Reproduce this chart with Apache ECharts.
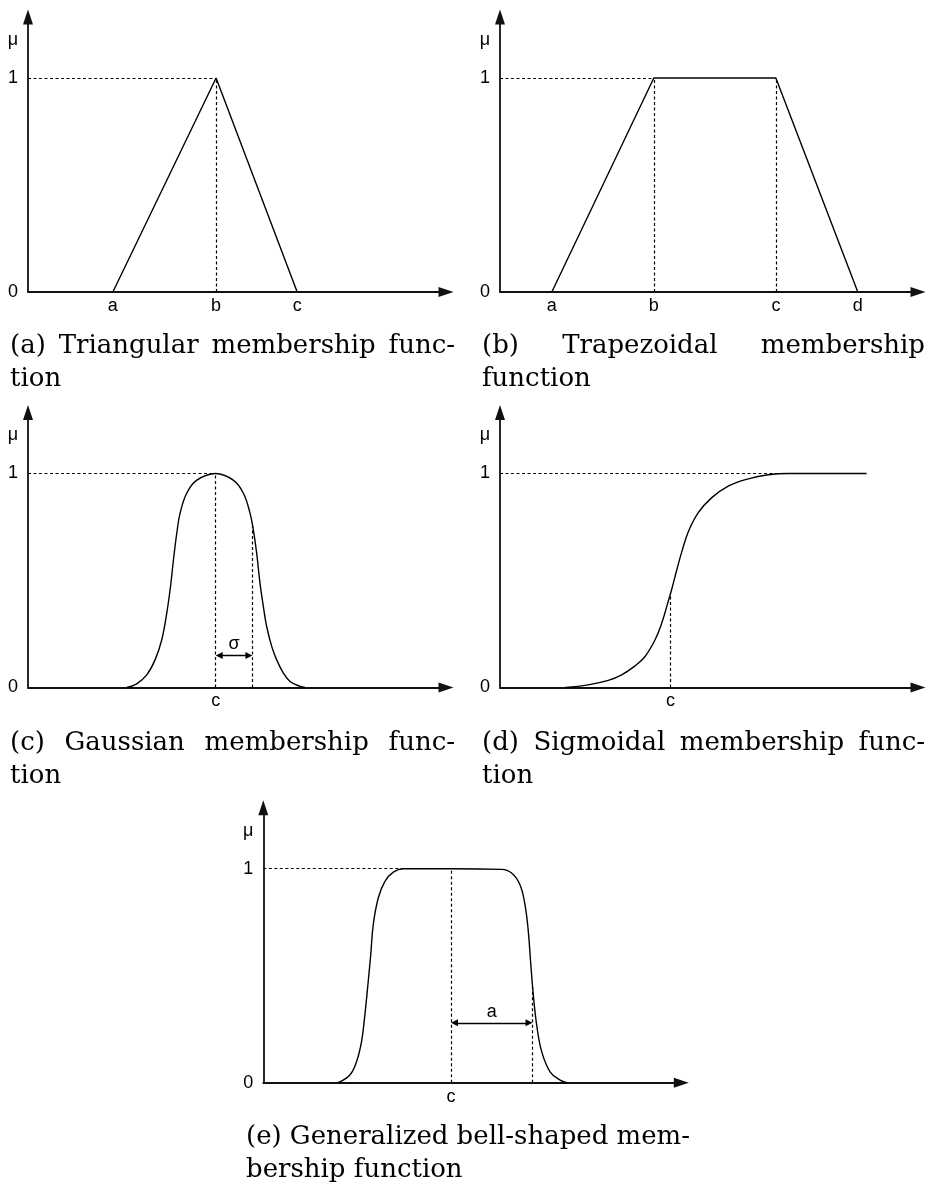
<!DOCTYPE html>
<html>
<head>
<meta charset="utf-8">
<title>Membership functions</title>
<script src="https://cdn.jsdelivr.net/npm/echarts@6.0.0/dist/echarts.min.js"></script>
<style>
  html, body { margin: 0; padding: 0; background: #fff; }
  #chart { width: 928px; height: 1186px; }
</style>
</head>
<body>
<div id="chart"></div>
<script>
// ---- values (x in axis units 0..10, y = membership degree) ----
const triX = [2.03, 4.50, 6.44];
const triY = [0, 1, 0];
const triTicks = ['a', 'b', 'c'];

const trapX = [1.24, 3.68, 6.60, 8.56];
const trapY = [0, 1, 1, 0];
const trapTicks = ['a', 'b', 'c', 'd'];

const gaussX = [2.36, 2.60, 2.84, 3.04, 3.20, 3.32, 3.41, 3.48, 3.56, 3.64, 3.80, 4.04, 4.49,
                4.91, 5.15, 5.31, 5.39, 5.47, 5.55, 5.63, 5.71, 5.83, 5.95, 6.11, 6.27, 6.51, 6.63];
const gaussY = [0, 0.017, 0.059, 0.129, 0.223, 0.348, 0.473, 0.597, 0.722, 0.816, 0.909, 0.969, 1,
                0.969, 0.909, 0.816, 0.738, 0.629, 0.488, 0.379, 0.285, 0.192, 0.129, 0.067, 0.028, 0.005, 0];
const gaussC = 4.49;
const gaussSigmaX = 5.37;

const sigX = [1.56, 2.11, 2.59, 2.91, 3.23, 3.47, 3.71, 3.87, 3.99, 4.11, 4.23, 4.35, 4.51,
              4.74, 5.06, 5.46, 5.94, 6.42, 6.90, 8.77];
const sigY = [0, 0.012, 0.033, 0.059, 0.101, 0.145, 0.223, 0.301, 0.379, 0.46, 0.55, 0.635, 0.730,
              0.816, 0.886, 0.941, 0.975, 0.994, 1, 1];
const sigC = 4.08;

const bellX = [1.79, 2.07, 2.23, 2.35, 2.43, 2.51, 2.57, 2.63, 2.75, 2.91, 3.11, 3.35, 4.49,
               5.70, 5.94, 6.14, 6.26, 6.34, 6.40, 6.46, 6.54, 6.66, 6.86, 7.10, 7.26];
const bellY = [0, 0.036, 0.098, 0.192, 0.317, 0.473, 0.598, 0.738, 0.863, 0.941, 0.984, 1, 1,
               0.997, 0.98, 0.925, 0.832, 0.707, 0.551, 0.41, 0.27, 0.145, 0.051, 0.012, 0];
const bellC = 4.49;
const bellAX = 6.44;

const centerTicks = ['c'];
const yTickValues = [0, 1, 1.178];
const yTickLabels = ['0', '1', 'μ'];

const sigmaArrowY = 0.15;
const bellArrowY = 0.28;

const captions = [
  ['(a) Triangular membership func-', 'tion'],
  ['(b) Trapezoidal membership', 'function'],
  ['(c) Gaussian membership func-', 'tion'],
  ['(d) Sigmoidal membership func-', 'tion'],
  ['(e) Generalized bell-shaped mem-', 'bership function']
];

// ---- layout ----
const X_MAX = 10;
const Y_MAX = 1.285;
const GRID_W = 418, GRID_H = 275;
const grids = [
  { left: 28,    top: 17 },
  { left: 500,   top: 17 },
  { left: 28,    top: 412.5 },
  { left: 500,   top: 412.5 },
  { left: 263.3, top: 807.7 }
];
const captionBoxes = [
  { left: 10,  right: 455, top: 346 },
  { left: 482, right: 925, top: 346 },
  { left: 10,  right: 455, top: 743 },
  { left: 482, right: 925, top: 743 },
  { left: 246, right: 690, top: 1137 }
];
const CAPTION_FONT = '26px "DejaVu Serif"';
const CAPTION_LINE = 33;
const TICK_FONT = 'Liberation Sans';
const TICK_SIZE = 18;
const INK = '#000';
const AXIS_INK = '#111';

function lookup(values, labels) {
  return function (v) {
    const i = values.findIndex(t => Math.abs(t - v) < 1e-6);
    return i < 0 ? '' : labels[i];
  };
}

function xAxisFor(i, values, labels) {
  return {
    gridIndex: i, type: 'value', min: 0, max: X_MAX,
    axisLine: { show: true, onZero: false, symbol: ['none', 'triangle'], symbolSize: [10, 15],
                lineStyle: { color: AXIS_INK, width: 1.8 } },
    axisTick: { show: false },
    splitLine: { show: false },
    axisLabel: { customValues: values, formatter: lookup(values, labels), margin: 5,
                 color: INK, fontSize: TICK_SIZE, fontFamily: TICK_FONT }
  };
}

function yAxisFor(i) {
  return {
    gridIndex: i, type: 'value', min: 0, max: Y_MAX,
    axisLine: { show: true, onZero: false, symbol: ['none', 'triangle'], symbolSize: [10, 15],
                lineStyle: { color: AXIS_INK, width: 1.8 } },
    axisTick: { show: false },
    splitLine: { show: false },
    axisLabel: { customValues: yTickValues, formatter: lookup(yTickValues, yTickLabels), margin: 10,
                 color: INK, fontSize: TICK_SIZE, fontFamily: TICK_FONT }
  };
}

function pairs(xs, ys) { return xs.map((x, k) => [x, ys[k]]); }

// membership value on the drawn curve at x (piecewise linear between the points)
function valueAt(xs, ys, x) {
  for (let k = 1; k < xs.length; k++) {
    if (x <= xs[k]) {
      const t = (x - xs[k - 1]) / (xs[k] - xs[k - 1]);
      return ys[k - 1] + t * (ys[k] - ys[k - 1]);
    }
  }
  return ys[ys.length - 1];
}

// first x where the curve reaches full membership
function firstTop(xs, ys) { return xs[ys.findIndex(y => y >= 1)]; }

function guide(x1, y1, x2, y2) { return [{ coord: [x1, y1] }, { coord: [x2, y2] }]; }

function curve(i, xs, ys, smooth, guides) {
  return {
    type: 'line', xAxisIndex: i, yAxisIndex: i,
    data: pairs(xs, ys),
    symbol: 'none', showSymbol: false,
    smooth: smooth,
    lineStyle: { color: INK, width: 1.4 },
    silent: true, animation: false,
    markLine: {
      silent: true, animation: false,
      symbol: ['none', 'none'],
      label: { show: false },
      emphasis: { disabled: true },
      lineStyle: { type: [3, 2.5], color: INK, width: 1.2 },
      data: guides
    }
  };
}

// double-headed dimension arrow with its label above it
function dimension(i, x1, x2, y, text) {
  const pad = 3.5 * X_MAX / GRID_W;
  return {
    type: 'lines', coordinateSystem: 'cartesian2d', xAxisIndex: i, yAxisIndex: i,
    symbol: ['triangle', 'triangle'], symbolSize: [7, 7],
    lineStyle: { color: INK, width: 1.3, opacity: 1, curveness: 0 },
    label: { show: true, position: 'middle', formatter: text, distance: 2,
             color: INK, fontSize: TICK_SIZE, fontFamily: TICK_FONT },
    data: [{ coords: [[x1 + pad, y], [x2 - pad, y]] }],
    silent: true, animation: false
  };
}

const triTop = firstTop(triX, triY);
const trapTop = firstTop(trapX, trapY);
const gaussTop = firstTop(gaussX, gaussY);
const sigTop = firstTop(sigX, sigY);
const bellTop = firstTop(bellX, bellY);

const series = [
  curve(0, triX, triY, false, [
    guide(0, 1, triTop, 1),
    guide(triX[1], 0, triX[1], 1)
  ]),
  curve(1, trapX, trapY, false, [
    guide(0, 1, trapTop, 1),
    guide(trapX[1], 0, trapX[1], 1),
    guide(trapX[2], 0, trapX[2], 1)
  ]),
  curve(2, gaussX, gaussY, 0.4, [
    guide(0, 1, gaussTop, 1),
    guide(gaussC, 0, gaussC, 1),
    guide(gaussSigmaX, 0, gaussSigmaX, valueAt(gaussX, gaussY, gaussSigmaX))
  ]),
  dimension(2, gaussC, gaussSigmaX, sigmaArrowY, 'σ'),
  curve(3, sigX, sigY, 0.4, [
    guide(0, 1, sigTop, 1),
    guide(sigC, 0, sigC, valueAt(sigX, sigY, sigC))
  ]),
  curve(4, bellX, bellY, 0.4, [
    guide(0, 1, bellTop, 1),
    guide(bellC, 0, bellC, 1),
    guide(bellAX, 0, bellAX, valueAt(bellX, bellY, bellAX))
  ]),
  dimension(4, bellC, bellAX, bellArrowY, 'a')
];

// justified two-line captions, one text element per word on full lines
function captionElements() {
  const ctx = document.createElement('canvas').getContext('2d');
  ctx.font = CAPTION_FONT;
  const els = [];
  captions.forEach((lines, ci) => {
    const box = captionBoxes[ci];
    lines.forEach((line, li) => {
      const y = box.top + li * CAPTION_LINE;
      const words = line.split(' ');
      const put = (txt, x) => els.push({
        type: 'text', x: x, y: y, silent: true,
        style: { text: txt, font: CAPTION_FONT, fill: INK,
                 align: 'left', verticalAlign: 'middle',
                 textAlign: 'left', textVerticalAlign: 'middle' }
      });
      if (li < lines.length - 1 && words.length > 1) {
        const widths = words.map(w => ctx.measureText(w).width);
        const total = widths.reduce((s, w) => s + w, 0);
        const gap = (box.right - box.left - total) / (words.length - 1);
        let x = box.left;
        words.forEach((w, k) => { put(w, x); x += widths[k] + gap; });
      } else {
        put(line, box.left);
      }
    });
  });
  return els;
}

const chart = echarts.init(document.getElementById('chart'), null,
  { renderer: 'canvas', width: 928, height: 1186 });

chart.setOption({
  backgroundColor: '#fff',
  animation: false,
  grid: grids.map(g => ({ left: g.left, top: g.top, width: GRID_W, height: GRID_H,
                          outerBoundsMode: 'none', containLabel: false })),
  xAxis: [
    xAxisFor(0, triX, triTicks),
    xAxisFor(1, trapX, trapTicks),
    xAxisFor(2, [gaussC], centerTicks),
    xAxisFor(3, [sigC], centerTicks),
    xAxisFor(4, [bellC], centerTicks)
  ],
  yAxis: [0, 1, 2, 3, 4].map(yAxisFor),
  series: series,
  graphic: { elements: captionElements() }
});
</script>
</body>
</html>
